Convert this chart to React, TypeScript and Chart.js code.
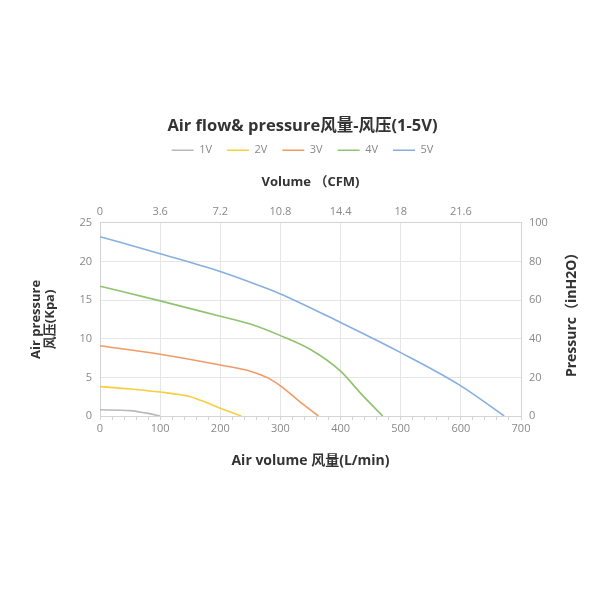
import React, { useEffect, useRef } from "react";
import { Chart, registerables } from "chart.js";

Chart.register(...registerables);

const TITLE = "Air flow& pressure风量-风压(1-5V)";
const seriesNames = ["1V", "2V", "3V", "4V", "5V"];
const seriesColors = ["#b9b9b9", "#f6cf3e", "#f29a66", "#8fc36f", "#86b0df"];

const flow1V = [0, 50, 75, 100];
const pres1V = [0.8, 0.7, 0.4, 0];
const flow2V = [0, 50, 100, 150, 175, 200, 235];
const pres2V = [3.8, 3.5, 3.1, 2.5, 1.8, 1.0, 0];
const flow3V = [0, 100, 200, 250, 280, 300, 330, 363];
const pres3V = [9.1, 8.0, 6.6, 5.8, 4.9, 3.9, 2.0, 0];
const flow4V = [0, 100, 200, 250, 300, 350, 400, 435, 470];
const pres4V = [16.8, 14.9, 12.9, 11.9, 10.4, 8.6, 5.8, 2.8, 0];
const flow5V = [0, 100, 200, 250, 300, 400, 500, 600, 672];
const pres5V = [23.2, 21.0, 18.7, 17.3, 15.8, 12.1, 8.2, 3.9, 0];

const cfmTickLabels = ["0", "3.6", "7.2", "10.8", "14.4", "18", "21.6"];
const bottomTitle = "Air volume 风量(L/min)";
const topTitle = "Volume （CFM)";
const leftTitle = ["Air pressure", "风压(Kpa)"];
const rightTitle = "Pressurc（inH2O）";

const FONT = '"Open Sans", "Noto Sans CJK SC", sans-serif';

const flows = [flow1V, flow2V, flow3V, flow4V, flow5V];
const pressures = [pres1V, pres2V, pres3V, pres4V, pres5V];

export default function App() {
  const ref = useRef<HTMLCanvasElement>(null);
  useEffect(() => {
    document.body.style.margin = "0";
    const rightTitlePlugin = {
      id: "rightTitle",
      afterDraw(chart: any) {
        const { ctx, chartArea } = chart;
        ctx.save();
        ctx.translate(572, (chartArea.top + chartArea.bottom) / 2 - 8);
        ctx.rotate(-Math.PI / 2);
        ctx.font = `bold 14px ${FONT}`;
        ctx.fillStyle = "#333";
        ctx.textAlign = "center";
        ctx.textBaseline = "middle";
        ctx.fillText(rightTitle, 0, 0);
        ctx.restore();
      },
    };
    const chart = new Chart(ref.current!, {
      type: "line",
      data: {
        datasets: seriesNames.map((name, i) => ({
          label: name,
          data: flows[i].map((x, j) => ({ x, y: pressures[i][j] })),
          borderColor: seriesColors[i],
          backgroundColor: seriesColors[i],
          borderWidth: 1.6,
          pointRadius: 0,
          cubicInterpolationMode: "monotone" as const,
          xAxisID: "x",
          yAxisID: "y",
        })),
      },
      options: {
        animation: false,
        responsive: false,
        layout: { padding: { left: 20, right: 15, top: 116, bottom: 127 } },
        plugins: {
          title: {
            display: true,
            text: TITLE,
            color: "#333",
            font: { family: FONT, size: 16.5, weight: "bold" },
            padding: { top: 0, bottom: -6 },
          },
          legend: {
            display: true,
            labels: {
              usePointStyle: true,
              pointStyle: "line",
              pointStyleWidth: 22,
              color: "#888",
              font: { family: FONT, size: 11 },
              padding: 15,
            },
          },
          tooltip: { enabled: false },
        },
        scales: {
          x: {
            type: "linear",
            position: "bottom",
            min: 0,
            max: 700,
            ticks: {
              stepSize: 20,
              autoSkip: false,
              maxRotation: 0,
              color: "#888",
              font: { family: FONT, size: 11 },
              padding: 2,
              callback: (v: any) => (Number(v) % 100 === 0 ? String(v) : ""),
            },
            grid: {
              color: (c: any) => (c.tick && c.tick.value % 100 === 0 ? "#e6e6e6" : "rgba(0,0,0,0)"),
              tickColor: "#d4d4d4",
              tickLength: 4,
            },
            border: { color: "#d4d4d4" },
            title: {
              display: true,
              text: bottomTitle,
              color: "#333",
              font: { family: FONT, size: 14, weight: "bold" },
              padding: { top: 3, bottom: 4 },
            },
            afterFit: (s: any) => {
              s.height = 57;
            },
          },
          x2: {
            type: "linear",
            position: "top",
            min: 0,
            max: 700,
            ticks: {
              stepSize: 100,
              maxRotation: 0,
              color: "#888",
              font: { family: FONT, size: 11 },
              padding: 4,
              callback: (v: any, i: number) => (i < cfmTickLabels.length ? cfmTickLabels[i] : ""),
            },
            grid: { drawOnChartArea: false, drawTicks: false },
            border: { color: "#d4d4d4" },
            title: {
              display: true,
              text: topTitle,
              color: "#333",
              font: { family: FONT, size: 13, weight: "bold" },
              padding: { top: 9, bottom: 12 },
            },
            afterFit: (s: any) => {
              s.height = 57;
            },
          },
          y: {
            type: "linear",
            position: "left",
            min: 0,
            max: 25,
            ticks: {
              stepSize: 5,
              color: "#888",
              font: { family: FONT, size: 11 },
              padding: 8,
            },
            grid: { color: "#e6e6e6", drawTicks: false },
            border: { color: "#d4d4d4" },
            title: {
              display: true,
              text: leftTitle,
              color: "#333",
              font: { family: FONT, size: 13, weight: "bold", lineHeight: 1.1 },
              padding: { top: 9, bottom: 0 },
            },
            afterFit: (s: any) => {
              s.width = 80;
            },
          },
          y2: {
            type: "linear",
            position: "right",
            min: 0,
            max: 100,
            ticks: {
              stepSize: 20,
              color: "#888",
              font: { family: FONT, size: 11 },
              padding: 8,
            },
            grid: { drawOnChartArea: false, drawTicks: false },
            border: { color: "#d4d4d4" },
            afterFit: (s: any) => {
              s.width = 64;
            },
          },
        },
      },
      plugins: [rightTitlePlugin],
    });
    return () => chart.destroy();
  }, []);
  return (
    <div style={{ width: 600, height: 600 }}>
      <canvas ref={ref} width={600} height={600} style={{ display: "block" }} />
    </div>
  );
}
